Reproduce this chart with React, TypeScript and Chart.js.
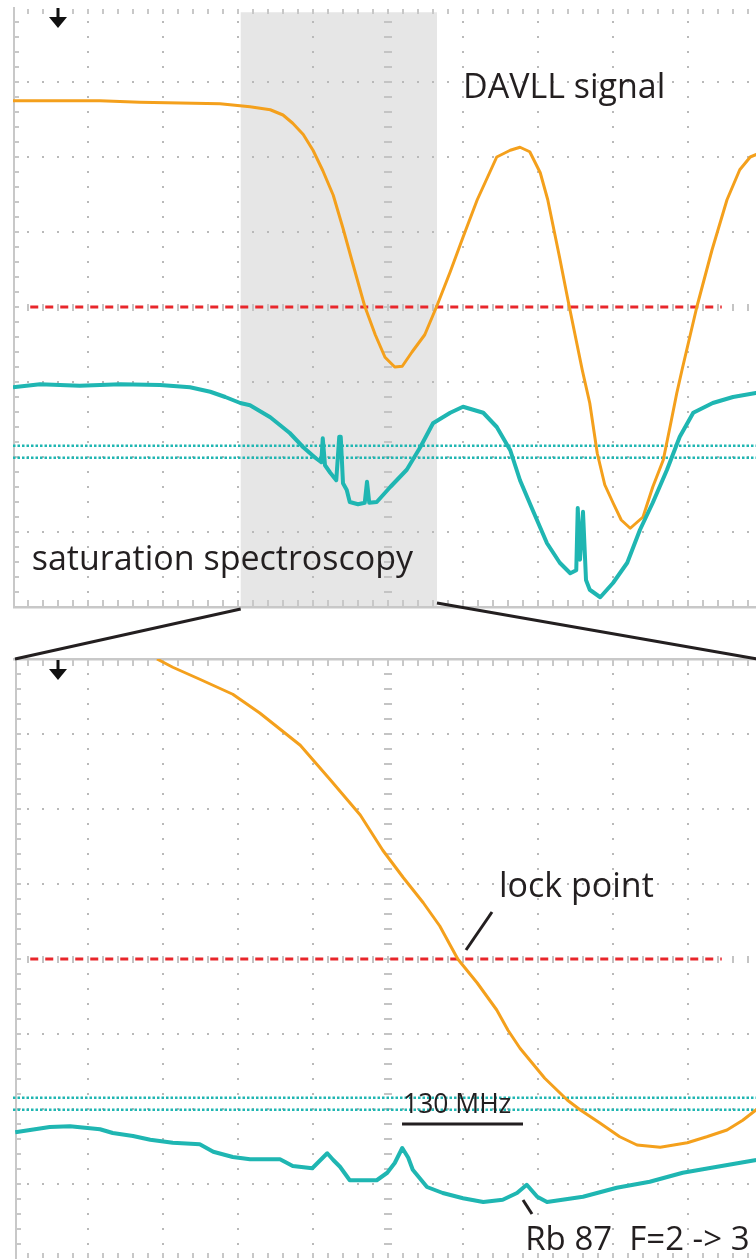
import React, { useEffect, useRef } from "react";
import { Chart, registerables } from "chart.js";
Chart.register(...registerables);

// Units: oscilloscope divisions (x: 0..10, y: -4..4)

// ---- Overview (top) screen ----
const topDavllX = [0.00, 0.63, 1.16, 1.69, 2.23, 2.76, 3.16, 3.43, 3.60, 3.73, 3.87, 4.00, 4.13, 4.27, 4.40, 4.53, 4.69, 4.83, 4.96, 5.09, 5.19, 5.32, 5.49, 5.65, 5.83, 6.00, 6.19, 6.45, 6.63, 6.76, 6.89, 7.03, 7.13, 7.29, 7.40, 7.59, 7.69, 7.79, 7.89, 8.00, 8.11, 8.23, 8.40, 8.53, 8.67, 8.76, 8.85, 8.92, 9.12, 9.32, 9.52, 9.69, 9.83, 10.00];
const topDavllY = [2.75, 2.75, 2.75, 2.73, 2.72, 2.71, 2.67, 2.63, 2.56, 2.45, 2.30, 2.09, 1.82, 1.49, 1.05, 0.58, 0.01, -0.37, -0.67, -0.80, -0.79, -0.60, -0.37, 0.01, 0.47, 0.93, 1.43, 2.00, 2.09, 2.13, 2.07, 1.79, 1.43, 0.65, 0.09, -0.84, -1.28, -1.95, -2.37, -2.61, -2.84, -2.95, -2.80, -2.40, -2.04, -1.60, -1.15, -0.84, 0.01, 0.76, 1.43, 1.83, 2.00, 2.07];

const topSatX = [0.00, 0.36, 0.89, 1.43, 1.96, 2.36, 2.63, 2.83, 3.03, 3.16, 3.43, 3.69, 3.87, 4.03, 4.11, 4.13, 4.16, 4.23, 4.31, 4.35, 4.37, 4.40, 4.45, 4.49, 4.60, 4.69, 4.72, 4.75, 4.85, 5.03, 5.25, 5.43, 5.60, 5.83, 6.00, 6.27, 6.45, 6.63, 6.76, 6.93, 7.12, 7.29, 7.43, 7.51, 7.53, 7.56, 7.60, 7.64, 7.69, 7.83, 8.00, 8.19, 8.36, 8.53, 8.72, 8.89, 9.07, 9.33, 9.60, 10.00];
const topSatY = [-1.07, -1.03, -1.05, -1.03, -1.04, -1.07, -1.13, -1.20, -1.28, -1.31, -1.47, -1.68, -1.87, -2.01, -2.07, -1.75, -2.11, -2.21, -2.31, -1.73, -1.73, -2.35, -2.44, -2.60, -2.63, -2.61, -2.33, -2.61, -2.60, -2.40, -2.17, -1.87, -1.55, -1.41, -1.33, -1.41, -1.60, -1.91, -2.31, -2.71, -3.15, -3.41, -3.55, -3.51, -2.68, -3.37, -2.73, -3.64, -3.77, -3.87, -3.68, -3.41, -2.97, -2.61, -2.17, -1.73, -1.41, -1.28, -1.20, -1.13];

// ---- Zoomed (bottom) screen ----
const zoomDavllX = [1.92, 2.13, 2.49, 2.93, 3.29, 3.83, 4.23, 4.63, 4.93, 5.20, 5.47, 5.69, 5.93, 6.19, 6.45, 6.60, 6.76, 7.09, 7.39, 7.56, 7.83, 8.09, 8.32, 8.63, 8.99, 9.25, 9.52, 9.73, 9.91, 10.00];
const zoomDavllY = [4.00, 3.89, 3.73, 3.53, 3.28, 2.85, 2.39, 1.92, 1.45, 1.09, 0.75, 0.44, 0.00, -0.32, -0.68, -0.95, -1.19, -1.59, -1.88, -2.01, -2.19, -2.37, -2.48, -2.51, -2.45, -2.37, -2.28, -2.15, -2.01, -1.92];

const zoomSatX = [0.03, 0.49, 0.76, 1.16, 1.33, 1.60, 1.83, 2.13, 2.49, 2.67, 2.93, 3.16, 3.56, 3.73, 3.99, 4.07, 4.19, 4.27, 4.36, 4.49, 4.85, 4.99, 5.09, 5.19, 5.27, 5.33, 5.52, 5.73, 6.00, 6.27, 6.53, 6.72, 6.85, 6.99, 7.12, 7.60, 8.05, 8.49, 8.93, 9.39, 9.91, 10.00];
const zoomSatY = [-2.31, -2.24, -2.23, -2.27, -2.32, -2.36, -2.41, -2.45, -2.47, -2.57, -2.64, -2.67, -2.67, -2.76, -2.79, -2.71, -2.59, -2.68, -2.77, -2.95, -2.95, -2.85, -2.72, -2.52, -2.65, -2.81, -3.04, -3.12, -3.19, -3.24, -3.21, -3.12, -3.01, -3.17, -3.24, -3.17, -3.05, -2.97, -2.85, -2.77, -2.68, -2.65];

// reference levels
const lockLevel = 0;
const lockLevelRange = [0.23, 9.45];
const satLevels = [-1.85, -2.01];
const shadeRange = [3.036, 5.653];

const ORANGE = "#f4a01c";
const TEAL = "#1fb6b2";
const RED = "#e8262b";
const INK = "#231f20";

const pts = (xs: number[], ys: number[]) => xs.map((x, i) => ({ x, y: ys[i] }));

const scopePlugin = {
  id: "scope",
  beforeDatasetsDraw(chart: any, _a: any, opts: any) {
    const { ctx, chartArea: a, scales } = chart;
    const x = scales.x, y = scales.y;
    ctx.save();
    if (opts.shade) {
      const x0 = x.getPixelForValue(opts.shade[0]);
      const x1 = x.getPixelForValue(opts.shade[1]);
      const y0 = y.getPixelForValue(3.93);
      ctx.fillStyle = "#e6e6e6";
      ctx.fillRect(x0, y0, x1 - x0, a.bottom - y0);
    }
    // dotted grid
    ctx.fillStyle = "#b9b9b9";
    for (let i = 1; i < 10; i++) {
      if (i === 5) continue;
      const px = Math.round(x.getPixelForValue(i));
      for (let k = 1; k < 40; k++) {
        const py = Math.round(y.getPixelForValue(-4 + k * 0.2));
        ctx.fillRect(px - 1, py - 1, 2, 2);
      }
    }
    for (let j = 1; j < 8; j++) {
      if (j === 4) continue;
      const py = Math.round(y.getPixelForValue(j - 4));
      for (let k = 1; k < 50; k++) {
        const px = Math.round(x.getPixelForValue(k * 0.2));
        ctx.fillRect(px - 1, py - 1, 2, 2);
      }
    }
    // centre lines
    ctx.fillStyle = "#c4c4c4";
    const cx = Math.round(x.getPixelForValue(5));
    for (let k = 1; k < 40; k++) {
      const py = Math.round(y.getPixelForValue(-4 + k * 0.2));
      ctx.fillRect(cx - 4, py - 1, 8, 2);
    }
    const cy = Math.round(y.getPixelForValue(0));
    for (let k = 1; k < 50; k++) {
      const px = Math.round(x.getPixelForValue(k * 0.2));
      ctx.fillRect(px - 1, cy - 3, 2, 7);
    }
    // edges
    ctx.fillStyle = "#c8c8c8";
    const lx = a.left + (opts.leftInset || 0);
    ctx.fillRect(lx, a.top, 2, a.bottom - a.top);
    for (let k = 1; k < 40; k++) {
      const py = Math.round(y.getPixelForValue(-4 + k * 0.2));
      ctx.fillRect(lx, py - 1, 6, 2);
    }
    for (let k = 1; k < 50; k++) {
      const px = Math.round(x.getPixelForValue(k * 0.2));
      if (opts.topLine) ctx.fillRect(px - 1, a.top, 2, 7);
      else ctx.fillRect(px - 1, a.top + 2, 2, 5);
      if (opts.bottomLine) ctx.fillRect(px - 1, a.bottom - 7, 2, 7);
      else ctx.fillRect(px - 1, a.bottom - 6, 2, 5);
    }
    if (opts.topLine) ctx.fillRect(a.left, a.top - 1, a.right - a.left, 2.5);
    if (opts.bottomLine) ctx.fillRect(a.left, a.bottom - 1, a.right - a.left, 2.5);
    // ground marker
    const gx = a.left + 45, gy = a.top + 1;
    ctx.fillStyle = "#111";
    ctx.fillRect(gx - 1.5, gy, 3, 10);
    ctx.beginPath();
    ctx.moveTo(gx - 9, gy + 9);
    ctx.lineTo(gx + 9, gy + 9);
    ctx.lineTo(gx, gy + 20);
    ctx.closePath();
    ctx.fill();
    ctx.restore();
  },
  afterDatasetsDraw(chart: any, _a: any, opts: any) {
    const { ctx, chartArea: a, scales } = chart;
    const x = scales.x, y = scales.y;
    ctx.save();
    ctx.strokeStyle = INK;
    ctx.lineCap = "butt";
    (opts.segments || []).forEach((s: any) => {
      ctx.lineWidth = s.w;
      ctx.beginPath();
      ctx.moveTo(x.getPixelForValue(s.x0), y.getPixelForValue(s.y0));
      ctx.lineTo(x.getPixelForValue(s.x1), y.getPixelForValue(s.y1));
      ctx.stroke();
    });
    ctx.fillStyle = INK;
    ctx.textBaseline = "alphabetic";
    ctx.textAlign = "left";
    (opts.labels || []).forEach((l: any) => {
      ctx.font = `${l.size}px "Open Sans"`;
      ctx.fillText(l.text, x.getPixelForValue(l.x), y.getPixelForValue(l.y));
    });
    if (opts.connectors) {
      ctx.lineWidth = 3;
      ctx.beginPath();
      ctx.moveTo(x.getPixelForValue(opts.connectors[0]), a.top - 50);
      ctx.lineTo(a.left + 2, a.top);
      ctx.moveTo(x.getPixelForValue(opts.connectors[1]), a.top - 56);
      ctx.lineTo(a.right, a.top + 1);
      ctx.stroke();
    }
    ctx.restore();
  },
};

function makeDatasets(davX: number[], davY: number[], satX: number[], satY: number[]) {
  return [
    { data: pts(satX, satY), borderColor: TEAL, borderWidth: 4, pointRadius: 0, tension: 0, borderJoinStyle: "round" },
    { data: pts(davX, davY), borderColor: ORANGE, borderWidth: 3, pointRadius: 0, tension: 0, borderJoinStyle: "round" },
    { data: pts(lockLevelRange, [lockLevel, lockLevel]), borderColor: RED, borderWidth: 3, borderDash: [8, 7], pointRadius: 0 },
    { data: pts([0, 10], [satLevels[0], satLevels[0]]), borderColor: TEAL, borderWidth: 2.5, borderDash: [2.5, 2], pointRadius: 0 },
    { data: pts([0, 10], [satLevels[1], satLevels[1]]), borderColor: TEAL, borderWidth: 2.5, borderDash: [2.5, 2], pointRadius: 0 },
  ];
}

function baseOptions(padding: any, scope: any) {
  return {
    animation: false,
    responsive: false,
    maintainAspectRatio: false,
    layout: { padding },
    plugins: { legend: { display: false }, tooltip: { enabled: false }, scope },
    scales: {
      x: { type: "linear", min: 0, max: 10, display: false },
      y: { type: "linear", min: -4, max: 4, display: false },
    },
  } as any;
}

export default function App() {
  const topRef = useRef<HTMLCanvasElement>(null);
  const botRef = useRef<HTMLCanvasElement>(null);

  useEffect(() => {
    const top = new Chart(topRef.current!, {
      type: "line",
      data: { datasets: makeDatasets(topDavllX, topDavllY, topSatX, topSatY) as any },
      options: baseOptions(
        { left: 13, right: 7, top: 7, bottom: 5 },
        {
          shade: shadeRange,
          bottomLine: true,
          labels: [
            { text: "DAVLL signal", x: 6.0, y: 2.787, size: 34 },
            { text: "saturation spectroscopy", x: 0.25, y: -3.507, size: 34 },
          ],
        }
      ),
      plugins: [scopePlugin],
    });
    const bot = new Chart(botRef.current!, {
      type: "line",
      data: { datasets: makeDatasets(zoomDavllX, zoomDavllY, zoomSatX, zoomSatY) as any },
      options: baseOptions(
        { left: 13, right: 7, top: 59, bottom: 21 },
        {
          topLine: true,
          leftInset: 2,
          connectors: shadeRange,
          labels: [
            { text: "lock point", x: 6.48, y: 0.827, size: 34 },
            { text: "130 MHz", x: 5.2, y: -2.053, size: 26.5 },
            { text: "Rb 87  F=2 -> 3", x: 6.83, y: -3.88, size: 33 },
          ],
          segments: [
            { x0: 6.04, y0: 0.12, x1: 6.387, y1: 0.627, w: 3 },
            { x0: 5.187, y0: -2.2, x1: 6.8, y1: -2.2, w: 3 },
            { x0: 6.8, y0: -3.213, x1: 6.92, y1: -3.4, w: 3 },
          ],
        }
      ),
      plugins: [scopePlugin],
    });
    return () => {
      top.destroy();
      bot.destroy();
    };
  }, []);

  return (
    <div style={{ position: "absolute", left: 0, top: 0, width: 756, height: 1259, overflow: "hidden", background: "#fff" }}>
      <canvas ref={topRef} width={770} height={612} style={{ position: "absolute", left: 0, top: 0, width: 770, height: 612 }} />
      <canvas ref={botRef} width={770} height={680} style={{ position: "absolute", left: 0, top: 600, width: 770, height: 680 }} />
    </div>
  );
}
